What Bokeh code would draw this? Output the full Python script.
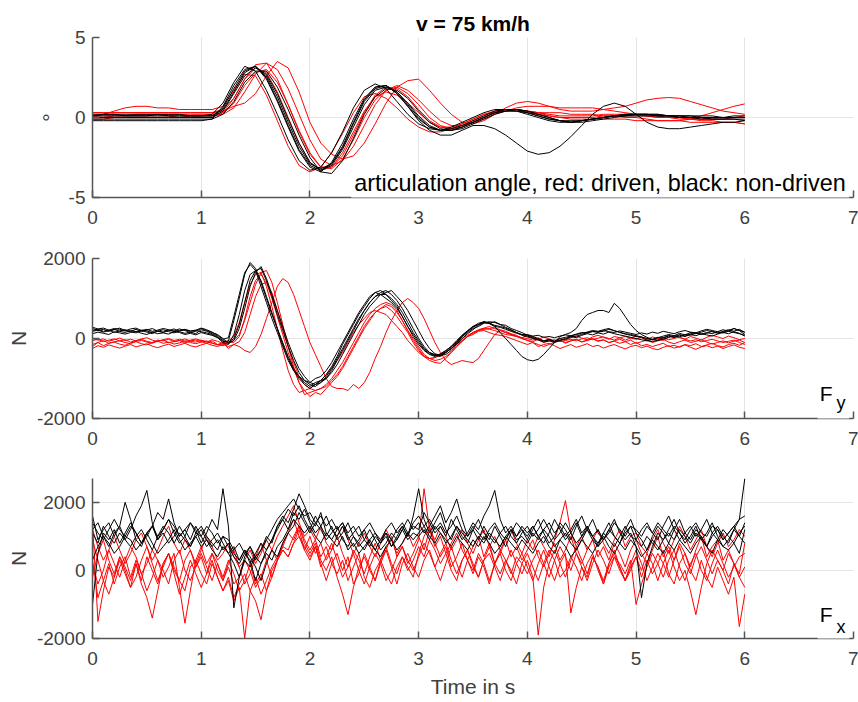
import numpy as np
from bokeh.plotting import figure
from bokeh.layouts import column
from bokeh.models import Label, BoxAnnotation, FixedTicker, Range1d
from bokeh.embed import file_html
from bokeh.resources import INLINE

# ---------------- data ----------------
t_ang = np.round(np.arange(61) * 0.1, 2)
t_force = np.round(np.arange(121) * 0.05, 2)
x_ticks = [0, 1, 2, 3, 4, 5, 6, 7]
ang_ticks = [-5, 0, 5]
force_ticks = [-2000, 0, 2000]

# articulation angle in degrees (black: non-driven, red: driven)
ang_black_1 = [0.2,0.2,0.2,0.2,0.2,0.2,0.2,0.2,0.2,0.1,0.1,
 0.2,0.9,2.2,3.2,2.9,1.7,0.2,-1.4,-2.7,-3.3,
 -3.1,-2.2,-0.9,0.6,1.7,2.1,1.8,1.0,0.2,-0.4,
 -0.7,-0.8,-0.6,-0.3,0.0,0.3,0.5,0.5,0.4,0.2,
 0.0,-0.2,-0.3,-0.3,-0.2,-0.1,0.0,0.1,0.2,0.2,
 0.2,0.1,0.1,0.0,0.0,-0.1,-0.1,-0.1,-0.1,-0.1]
ang_black_2 = [0.1,0.1,0.1,0.1,0.1,0.1,0.1,0.1,0.1,0.1,0.1,
 0.1,0.6,1.8,2.9,3.2,2.4,1.0,-0.6,-2.1,-3.1,
 -3.4,-2.8,-1.6,-0.1,1.2,1.9,2.0,1.5,0.7,-0.1,
 -0.6,-0.8,-0.7,-0.5,-0.2,0.1,0.4,0.5,0.5,0.3,
 0.1,-0.1,-0.2,-0.3,-0.2,-0.1,0.0,0.1,0.2,0.2,
 0.2,0.2,0.1,0.1,0.1,0.0,0.0,0.0,0.0,0.0]
ang_black_3 = [0.0,0.0,0.0,0.0,0.0,0.0,0.0,0.0,0.0,0.0,0.0,
 0.0,0.4,1.5,2.6,3.1,2.7,1.5,-0.1,-1.6,-2.8,
 -3.3,-3.0,-2.0,-0.6,0.8,1.7,1.9,1.6,0.9,0.1,
 -0.5,-0.8,-0.8,-0.6,-0.3,0.0,0.3,0.4,0.5,0.4,
 0.2,0.0,-0.2,-0.3,-0.2,-0.1,0.0,0.1,0.1,0.2,
 0.2,0.1,0.1,0.1,0.0,0.0,0.0,0.0,0.1,0.1]
ang_black_4 = [-0.1,-0.1,-0.1,-0.1,-0.1,-0.1,-0.1,-0.1,-0.1,-0.1,-0.1,
 -0.1,0.2,1.0,2.2,2.9,2.9,1.9,0.5,-1.1,-2.5,
 -3.4,-3.5,-2.7,-1.3,0.2,1.3,1.8,1.7,1.2,0.4,
 -0.3,-0.7,-0.8,-0.7,-0.4,-0.1,0.2,0.4,0.4,0.3,
 0.1,-0.1,-0.2,-0.3,-0.3,-0.2,-0.1,0.0,0.1,0.1,
 0.1,0.1,0.1,0.0,0.0,0.0,-0.1,-0.1,-0.1,-0.2]
ang_black_5 = [-0.2,-0.2,-0.2,-0.2,-0.2,-0.2,-0.2,-0.2,-0.2,-0.2,-0.2,
 -0.1,0.7,2.0,3.0,3.2,2.5,1.1,-0.5,-2.0,-3.0,
 -3.3,-2.9,-1.8,-0.3,1.1,1.9,2.0,1.5,0.7,-0.2,
 -0.8,-1.1,-1.1,-0.8,-0.5,-0.5,-0.7,-1.1,-1.6,-2.1,
 -2.3,-2.2,-1.8,-1.2,-0.5,0.2,0.7,0.9,0.7,0.2,
 -0.3,-0.6,-0.7,-0.7,-0.6,-0.5,-0.4,-0.3,-0.3,-0.2]
ang_black_6 = [0.1,0.2,0.2,0.1,0.1,0.1,0.2,0.1,0.1,0.1,0.1,
 0.1,0.5,1.6,2.8,3.2,2.6,1.3,-0.3,-1.8,-2.9,
 -3.2,-2.9,-1.9,-0.4,1.0,1.8,2.0,1.6,0.8,0.0,
 -0.6,-0.8,-0.8,-0.6,-0.3,0.0,0.3,0.5,0.5,0.4,
 0.2,0.0,-0.2,-0.2,-0.2,-0.1,0.0,0.1,0.1,0.2,
 0.2,0.2,0.1,0.1,0.1,0.1,0.1,0.0,0.0,0.0]
ang_red_1 = [0.0,0.2,0.4,0.6,0.7,0.7,0.6,0.6,0.5,0.5,0.5,
 0.5,0.7,1.7,2.7,2.6,1.4,-0.2,-1.8,-3.0,-3.4,
 -3.1,-2.2,-1.0,0.3,1.3,1.5,1.2,0.6,-0.1,-0.6,
 -0.9,-0.9,-0.7,-0.4,-0.1,0.2,0.4,0.5,0.5,0.4,
 0.3,0.2,0.1,0.1,0.1,0.1,0.2,0.2,0.2,0.2,
 0.1,0.1,0.0,0.0,-0.1,-0.2,-0.2,-0.3,-0.3,-0.4]
ang_red_2 = [0.3,0.3,0.3,0.3,0.3,0.3,0.3,0.3,0.3,0.3,0.3,
 0.3,0.5,1.2,2.4,3.3,3.4,2.4,0.8,-0.9,-2.3,
 -3.1,-3.1,-2.4,-1.1,0.3,1.4,1.9,1.8,1.3,0.5,
 -0.2,-0.6,-0.7,-0.5,-0.2,0.1,0.4,0.5,0.5,0.4,
 0.3,0.3,0.3,0.2,0.2,0.2,0.1,0.1,0.0,0.0,
 -0.1,-0.2,-0.2,-0.2,-0.1,0.1,0.3,0.5,0.7,0.85]
ang_red_3 = [0.3,0.3,0.3,0.3,0.3,0.3,0.3,0.3,0.3,0.3,0.3,
 0.3,0.4,0.7,0.9,1.5,2.6,3.5,3.1,1.6,-0.3,
 -1.6,-2.3,-2.6,-2.4,-1.6,-0.4,0.9,1.9,2.3,2.4,
 1.7,0.9,0.2,-0.3,-0.4,-0.2,0.2,0.6,0.9,1.0,
 0.9,0.7,0.5,0.4,0.4,0.4,0.5,0.6,0.7,0.9,
 1.1,1.2,1.25,1.2,1.0,0.8,0.6,0.4,0.3,0.2]
ang_red_4 = [0.1,0.1,0.1,0.1,0.2,0.2,0.2,0.2,0.2,0.2,0.2,
 0.2,0.3,0.9,2.0,2.8,3.0,2.2,0.8,-0.8,-2.2,
 -3.1,-3.2,-2.6,-1.4,0.0,1.1,1.7,1.9,1.5,0.8,
 0.0,-0.5,-0.7,-0.6,-0.3,0.0,0.3,0.5,0.5,0.4,
 0.3,0.1,0.0,-0.1,-0.1,-0.1,-0.1,-0.1,-0.1,-0.2,
 -0.2,-0.2,-0.2,-0.2,-0.3,-0.3,-0.3,-0.3,-0.3,-0.4]
ang_red_5 = [-0.1,-0.1,0.0,0.0,0.0,0.0,0.0,0.0,0.0,0.1,0.1,
 0.1,0.2,0.6,1.6,2.7,3.4,3.0,1.8,0.2,-1.4,
 -2.6,-3.0,-2.7,-1.8,-0.5,0.8,1.7,2.0,1.7,1.1,
 0.4,-0.2,-0.5,-0.5,-0.3,-0.1,0.2,0.4,0.6,0.7,
 0.7,0.7,0.6,0.6,0.6,0.6,0.5,0.4,0.3,0.2,
 0.1,0.0,0.0,-0.1,-0.1,-0.1,0.0,0.0,0.0,0.1]
ang_red_6 = [0.0,0.0,0.1,0.1,0.1,0.1,0.1,0.1,0.0,0.0,0.0,
 0.0,0.3,1.2,2.4,3.1,2.8,1.6,0.0,-1.6,-2.8,
 -3.3,-3.1,-2.2,-0.9,0.4,1.3,1.6,1.4,0.9,0.3,
 -0.3,-0.6,-0.6,-0.4,-0.1,0.2,0.3,0.4,0.4,0.3,
 0.2,0.1,0.0,0.0,0.0,0.0,0.1,0.1,0.1,0.1,
 0.1,0.0,0.0,0.0,-0.1,-0.1,-0.1,-0.1,0.0,0.0]

# lateral force Fy in N
fy_black_1 = [200,230,180,210,150,190,220,170,140,200,160,120,190,150,200,240,170,130,160,120,
 220,180,120,60,-80,-60,450,1000,1600,1900,1750,1400,1000,600,250,-100,-450,-750,-950,-1100,
 -1200,-1100,-1050,-900,-700,-450,-150,100,350,600,800,1000,1150,1200,1100,1000,850,650,400,150,
 -50,-250,-350,-420,-450,-350,-250,-100,50,150,250,300,380,420,400,350,330,250,200,150,
 80,50,0,-60,-40,-80,-50,-20,40,60,100,150,170,160,180,230,200,150,110,80,
 50,30,-50,-80,-40,20,80,40,100,60,120,150,100,130,180,140,160,200,250,200,
 100]
fy_black_2 = [250,200,230,180,220,260,200,180,230,170,210,250,180,160,210,190,240,200,150,180,
 250,200,150,100,0,-120,-50,250,750,1300,1650,1800,1500,1100,700,300,-100,-450,-750,-950,
 -1100,-1150,-1050,-1000,-850,-650,-400,-150,100,350,600,800,950,1100,1150,1200,1050,900,700,450,
 200,-50,-250,-380,-420,-400,-300,-150,0,120,220,330,400,380,420,350,280,220,150,100,
 60,20,-30,-60,-20,-70,0,30,60,100,130,160,200,180,220,250,190,160,120,100,
 70,40,0,-30,20,60,100,70,130,90,150,120,160,200,170,130,180,220,180,230,
 150]
fy_black_3 = [120,160,130,100,170,140,110,150,180,130,100,160,120,140,110,170,150,100,130,90,
 150,110,80,20,-100,-150,100,600,1200,1600,1700,1450,1050,650,250,-150,-500,-800,-1000,-1150,
 -1250,-1150,-1100,-950,-750,-500,-250,0,250,500,700,900,1050,1100,1100,950,800,550,300,50,
 -150,-300,-400,-450,-380,-300,-200,-50,80,180,280,350,420,380,330,300,260,200,150,80,
 40,0,-40,-90,-60,-100,-40,0,50,20,80,120,90,140,110,160,120,90,60,30,
 0,-30,-60,-20,30,10,60,20,80,50,100,70,120,90,60,110,150,120,170,130,
 60]
fy_black_4 = [180,210,160,190,230,180,150,200,170,210,190,150,180,220,170,140,190,220,180,200,
 170,140,100,30,-50,-100,0,350,900,1450,1700,1750,1450,1050,600,200,-200,-550,-850,-1050,
 -1150,-1200,-1100,-1000,-800,-550,-300,-50,200,450,700,900,1050,1150,1200,1100,950,750,500,250,
 0,-200,-350,-400,-420,-350,-250,-120,50,180,300,380,420,400,300,150,0,-150,-300,-450,
 -530,-560,-520,-400,-250,-100,50,100,150,250,450,600,650,700,700,650,880,750,550,350,
 200,100,30,-20,-50,-20,30,70,40,100,80,130,110,150,120,170,140,180,150,120,
 80]
fy_black_5 = [280,240,260,210,250,230,190,240,260,200,230,180,210,250,220,170,200,230,190,210,
 260,220,160,80,-20,20,550,1100,1650,1850,1700,1300,900,500,150,-200,-550,-800,-950,-1050,
 -1100,-1000,-950,-800,-600,-350,-100,150,400,650,850,1050,1150,1100,1000,900,750,550,300,100,
 -100,-280,-380,-430,-400,-330,-200,-80,80,200,300,350,400,370,300,280,230,180,130,100,
 100,60,80,30,50,20,60,90,70,110,150,130,180,160,200,170,150,190,160,130,
 100,140,110,160,130,180,150,120,170,200,160,140,190,230,200,170,220,180,250,200,
 160]
fy_red_1 = [-200,-100,-50,-120,-80,-60,-100,-130,-70,-50,-90,-120,-60,-40,-100,-80,-50,-110,-70,-90,
 -40,-80,-120,-150,-180,-120,-50,100,450,900,1350,1650,1700,1400,900,350,-200,-700,-1100,-1400,
 -1350,-1300,-1250,-1150,-1000,-800,-600,-350,-100,150,400,600,750,850,900,850,700,450,200,0,
 -200,-400,-500,-550,-520,-450,-350,-200,-50,50,150,200,230,250,270,220,180,120,80,0,
 -40,-80,-20,-100,-60,-30,-80,-50,-20,-60,-10,20,-30,10,40,0,-40,20,50,10,
 -20,30,0,-40,-10,20,-30,0,40,-20,-60,-30,-80,-50,-20,-60,-100,-70,-40,-100,
 -150]
fy_red_2 = [-50,-20,-80,-40,-10,-60,-30,-90,-50,-20,-70,-100,-40,-60,-20,-80,-50,-10,-60,-40,
 -80,-120,-60,-150,-100,-250,-150,-200,-300,-350,-200,100,500,900,1300,1500,1400,1100,700,300,
 -100,-400,-700,-1000,-1200,-1250,-1250,-1300,-1150,-1250,-1100,-850,-500,-200,150,450,700,900,1000,900,
 750,500,200,-100,-350,-550,-650,-600,-550,-580,-600,-500,-300,-100,100,200,150,100,50,0,
 -50,-100,-150,-200,-150,-100,-50,-100,-60,-20,-80,-40,0,-60,-30,-100,-70,-120,-80,-150,
 -100,-180,-150,-200,-160,-120,-200,-170,-220,-150,-180,-130,-200,-160,-120,-180,-210,-150,-120,-170,
 -100]
fy_red_3 = [-150,-100,-180,-120,-90,-140,-170,-110,-80,-130,-160,-100,-70,-120,-90,-140,-110,-60,-100,-130,
 -90,-60,-110,-160,-130,-80,-100,50,500,1050,1450,1600,1400,1000,550,100,-350,-750,-1100,-1300,
 -1450,-1350,-1400,-1250,-1100,-950,-750,-500,-250,0,250,450,650,750,850,800,650,450,200,-50,
 -250,-450,-550,-600,-620,-500,-350,-200,-80,50,130,200,250,230,200,150,100,80,50,20,
 0,-40,20,-60,-20,-80,-40,-120,-60,-20,-90,-50,-10,-70,-40,-100,-60,-20,-80,-40,
 -120,-80,-40,-100,-60,-20,-90,-130,-80,-40,-100,-70,-30,-90,-140,-100,-60,-110,-70,-40,
 -100]
fy_red_4 = [-250,-180,-220,-160,-200,-240,-190,-150,-210,-170,-130,-190,-230,-180,-140,-200,-160,-120,-180,-210,
 -160,-120,-170,-200,-140,-200,-150,-80,150,600,1050,1350,1400,1150,700,250,-200,-600,-950,-1150,
 -1250,-1300,-1250,-1200,-1050,-900,-700,-450,-200,50,300,500,650,750,800,700,550,350,150,-100,
 -300,-450,-500,-480,-420,-350,-250,-150,-50,50,100,180,200,150,100,80,50,0,-50,-100,
 -150,-100,-200,-150,-120,-180,-250,-200,-150,-220,-180,-130,-200,-170,-240,-190,-150,-210,-260,-200,
 -170,-230,-190,-250,-280,-220,-180,-240,-200,-160,-220,-270,-210,-180,-230,-190,-250,-200,-160,-220,
 -250]
fy_red_5 = [0,-40,-10,-70,-30,10,-50,-20,-60,-10,20,-40,-80,-30,0,-50,-20,-70,-40,-10,
 -50,-90,-30,-70,-120,-60,50,400,900,1350,1600,1650,1300,800,250,-300,-800,-1150,-1350,-1300,
 -1250,-1150,-1050,-900,-750,-550,-350,-100,150,350,500,650,700,650,600,450,300,150,-50,-200,
 -350,-450,-500,-480,-400,-300,-200,-100,0,80,150,220,260,300,250,200,150,100,60,20,
 80,30,-20,40,-10,-60,0,-40,20,60,10,-30,40,80,30,-20,50,20,-40,10,
 60,20,-30,40,0,-50,30,70,20,-20,50,10,-40,30,80,40,0,60,20,-30,
 0]

# longitudinal force Fx in N
fx_black_1 = [1600,900,1200,1400,1000,1300,2000,1500,900,700,1100,1300,900,1200,1500,1100,800,1000,1400,1200,
 800,1100,1500,1200,2400,1300,-1100,-200,400,700,300,600,1000,800,1300,1600,1400,1800,2250,1900,
 1500,1300,1700,1100,900,1200,1400,1000,700,900,1200,800,600,900,1100,700,1000,1300,1000,1600,
 2400,1500,1100,1400,1700,1200,900,1300,1000,800,1200,1500,1100,900,1300,1000,700,1100,1400,1200,
 900,1200,1500,1100,800,1000,1400,1200,900,1300,1600,1200,900,700,1100,1400,1000,800,1200,1500,
 1100,900,600,1000,1300,1100,800,1200,1500,1100,900,1200,1000,700,1100,1300,1000,800,1200,1500,
 2700]
fx_black_2 = [1200,1400,1000,700,1100,1300,900,1200,1600,1900,2350,1400,900,1100,800,1000,1300,1000,700,1100,
 1300,1000,800,600,1000,700,400,200,500,300,-300,200,600,900,1200,1500,1800,1600,1900,1500,
 1200,1600,1300,1000,1300,900,1100,1400,1000,700,900,1200,900,600,800,1100,900,1200,1500,1200,
 1400,1100,1300,1600,1900,1400,1700,2100,1500,1000,1200,900,1300,1000,800,1100,1300,1000,800,1100,
 1300,1000,1200,1500,1200,900,1100,1400,1100,800,1000,1300,1000,700,900,1200,1500,1100,900,1100,
 700,-800,200,700,1100,900,1200,1500,1100,800,1000,1300,900,1100,1400,1000,700,900,1200,1000,
 800]
fx_black_3 = [-1000,500,1100,900,1200,800,1100,1400,1100,800,1000,1300,1700,1500,2100,1400,1000,1200,900,1300,
 1000,700,900,1100,800,500,700,300,600,200,500,800,600,900,1300,1500,1200,1700,1500,1800,
 1400,1100,1300,1600,1200,1000,1300,900,1100,1300,900,700,1000,800,1100,900,1200,1400,1100,1300,
 1200,1700,1400,1100,1300,1000,1500,1200,900,1100,1400,1200,1600,1900,2350,1500,1100,1300,1000,1200,
 1000,1300,1000,800,1100,1500,1200,900,1100,1400,1000,1200,1500,1100,900,1200,1000,800,1100,1300,
 900,1200,1400,1100,900,1300,1600,1200,900,1100,1300,1000,1200,1500,1100,900,1200,1000,800,1100,
 1300]
fx_black_4 = [300,700,1000,800,500,700,1000,900,600,800,1100,800,500,700,900,1200,900,600,800,1000,
 700,900,600,400,700,500,200,-200,300,100,400,200,500,300,700,900,1200,1500,1300,1100,
 1300,1000,800,1100,900,700,1000,600,800,500,700,900,600,400,700,900,600,800,1100,900,
 1100,1300,1000,800,1100,900,700,1000,800,600,900,700,1000,800,500,700,1000,800,600,900,
 700,500,800,1000,700,500,900,700,400,600,900,700,500,800,1000,700,500,800,600,900,
 700,400,600,900,700,500,800,600,900,700,500,800,1000,700,500,900,700,600,800,500,
 1200]
fx_black_5 = [1100,800,1300,1000,800,1100,900,700,1000,1200,900,600,1000,1300,1100,800,1100,900,700,1000,
 1200,900,700,900,600,800,500,300,600,400,100,-300,200,600,400,800,1100,1300,1700,1400,
 1100,1400,1200,900,1100,1300,900,700,1000,800,600,900,1100,800,1000,700,900,1200,900,1100,
 1000,1200,900,1300,1100,800,1000,1300,1100,900,700,1000,800,1100,900,700,1000,1200,900,1000,
 800,1100,900,1200,1000,700,900,1100,800,600,900,1200,1000,800,1100,900,700,1000,1300,1000,
 900,700,1000,800,600,900,1100,900,1200,1000,800,1100,900,700,1000,1200,900,1100,1300,1000,
 1400]
fx_black_6 = [1400,1100,900,1200,1500,1200,1000,1300,1100,800,1100,1300,1000,1200,1500,1300,1000,1200,1400,1100,
 1000,1300,1100,800,1000,900,600,800,500,700,400,600,900,1200,1500,1700,1900,2100,1800,1600,
 1700,1400,1600,1300,1500,1200,1400,1100,1300,1000,1200,1400,1100,900,1200,1400,1100,1300,1000,1400,
 1600,1300,1500,1200,1400,1100,1300,1600,1200,1000,1300,1100,900,1200,1400,1100,900,1200,1000,1300,
 1100,1300,1000,1200,1400,1100,1300,1000,1200,1500,1100,1300,1000,1200,900,1100,1400,1200,1000,1300,
 1200,1000,1300,1100,1400,1200,1000,1300,1100,900,1200,1400,1100,1000,1300,1200,900,1100,1300,1500,
 1600]
fx_red_1 = [1400,-1500,-600,100,-200,300,-100,-500,200,-300,400,0,-400,200,500,100,-300,-600,100,300,
 -100,-400,200,-200,-600,-300,-900,-500,-2000,-600,-200,-700,-300,100,400,700,600,1000,1300,900,
 600,900,400,700,200,-100,300,-300,100,500,-200,-500,0,300,-100,-400,100,400,0,300,
 700,400,900,600,200,500,0,-300,300,600,100,-200,300,700,200,-100,300,0,-400,200,
 500,100,-300,200,600,300,-200,0,400,100,-300,200,500,0,-400,100,400,200,-100,300,
 -1000,-400,100,500,200,-200,300,600,100,-300,200,500,0,-300,200,600,200,-200,100,400,
 500]
fx_red_2 = [900,300,-300,-700,-200,400,100,-300,200,-400,-800,-1400,-600,200,500,0,-300,300,600,100,
 400,-100,500,200,-300,100,-400,-200,300,0,-500,-200,300,600,300,800,1100,900,1300,800,
 500,800,300,0,400,-200,-700,-1300,-500,100,400,0,-300,300,700,200,-100,400,100,-200,
 500,1000,1300,800,400,700,100,400,800,300,0,500,200,-300,200,600,300,-100,400,200,
 -100,300,600,200,-200,300,700,400,0,500,100,-300,200,600,300,-100,400,0,-300,100,
 400,0,500,200,-300,200,600,100,-300,0,-600,-1300,-500,200,600,300,0,500,200,-100,
 800]
fx_red_3 = [200,-400,0,600,200,-200,300,700,400,-100,200,600,300,-200,100,500,-500,-1550,-600,300,
 700,200,500,0,-300,200,600,100,-400,-100,400,800,300,-200,300,700,1100,1500,1000,600,
 1000,500,800,300,600,1000,500,100,600,300,-100,400,800,300,600,1000,400,700,200,500,
 900,2400,1200,700,1000,500,800,1100,600,300,700,1000,400,800,200,500,900,400,700,300,
 600,900,400,100,500,800,300,600,1000,500,200,600,900,400,700,300,800,500,100,600,
 900,500,200,600,1000,400,700,300,800,500,100,600,1000,400,700,900,300,600,200,-200,
 100]
fx_red_4 = [-200,500,900,300,-100,400,0,-500,-200,300,700,200,-300,100,500,-100,-700,-200,300,-100,
 -500,-100,300,-200,-600,-200,-800,-400,-100,-600,-900,-1450,-600,0,300,600,400,800,1000,700,
 400,700,100,400,800,300,-200,100,500,0,-400,100,500,200,-300,0,400,700,300,0,
 400,800,500,100,500,800,300,-100,300,600,200,-200,300,500,100,-300,200,600,200,-100,
 300,-200,-1900,-500,200,600,200,-200,300,700,300,-100,400,100,-400,200,500,100,-300,200,
 600,200,-300,100,500,200,-200,300,700,200,-100,400,700,300,-100,300,0,-400,200,-200,
 -500]
fx_red_5 = [1200,700,300,600,1000,600,200,500,900,1100,700,300,600,1000,1300,800,500,900,600,200,
 600,1000,700,300,500,800,400,100,300,600,200,500,900,600,1000,1300,1600,1900,1400,1000,
 1200,900,1300,800,600,1000,1300,900,500,800,1100,700,400,800,1200,900,500,800,1100,700,
 1000,600,1200,900,1300,1000,600,900,1200,800,500,900,1200,700,1000,600,900,1200,800,500,
 900,600,1000,700,400,900,1400,2050,1100,700,1000,600,900,1200,800,500,900,1200,700,1000,
 1100,700,500,900,1200,800,500,900,1300,1000,600,900,1200,700,400,800,1100,700,900,1200,
 1000]
fx_red_6 = [300,-800,-300,200,-400,100,400,-200,300,-100,-600,-200,300,0,-400,300,600,0,-300,100,
 500,100,-300,200,-200,300,-100,-600,-300,200,-400,-100,-600,-200,300,600,400,800,1200,600,
 300,700,200,-300,200,500,0,400,-400,-100,500,100,-300,200,600,100,-400,200,500,100,
 -200,300,600,100,-300,200,700,200,-200,300,-100,400,100,-400,200,500,0,-300,200,500,
 100,-300,200,600,100,-300,200,500,-1250,-500,100,-200,400,100,-300,200,600,100,-300,0,
 400,-200,300,-100,200,600,-100,-400,200,500,0,-300,300,-200,-500,100,-300,-700,-200,-1650,
 -700]

ang_red = [ang_red_1, ang_red_2, ang_red_3, ang_red_4, ang_red_5, ang_red_6]
ang_black = [ang_black_1, ang_black_2, ang_black_3, ang_black_4, ang_black_5, ang_black_6]
fy_red = [fy_red_1, fy_red_2, fy_red_3, fy_red_4, fy_red_5]
fy_black = [fy_black_1, fy_black_2, fy_black_3, fy_black_4, fy_black_5]
fx_red = [fx_red_1, fx_red_2, fx_red_3, fx_red_4, fx_red_5, fx_red_6]
fx_black = [fx_black_1, fx_black_2, fx_black_3, fx_black_4, fx_black_5, fx_black_6]

for name, group, n in (("ang_red", ang_red, 61), ("ang_black", ang_black, 61),
                       ("fy_red", fy_red, 121), ("fy_black", fy_black, 121),
                       ("fx_red", fx_red, 121), ("fx_black", fx_black, 121)):
    for k, s in enumerate(group):
        assert len(s) == n, f"{name}[{k}] has {len(s)} values"

# ---------------- styling ----------------
FONT = "Liberation Sans"
TXT = "#404040"
AXC = "#555555"
RED = "#ff0000"
BLK = "#000000"


def make_fig(height, top, bottom, yr, yticks, ylabel, xlabel=None):
    p = figure(width=858, height=height, output_backend="svg", toolbar_location=None,
               x_range=Range1d(0, 7), y_range=Range1d(*yr),
               min_border_left=92, min_border_right=5,
               min_border_top=top, min_border_bottom=bottom)
    p.outline_line_color = None
    p.xaxis.ticker = FixedTicker(ticks=x_ticks)
    p.yaxis.ticker = FixedTicker(ticks=yticks)
    p.xgrid.ticker = FixedTicker(ticks=x_ticks)
    p.ygrid.ticker = FixedTicker(ticks=yticks)
    p.yaxis.major_label_overrides = {v: str(v) for v in yticks}
    p.grid.grid_line_color = "#e4e4e4"
    p.grid.grid_line_width = 1
    for ax in (p.xaxis, p.yaxis):
        ax.major_tick_in = 7
        ax.major_tick_out = 0
        ax.minor_tick_line_color = None
        ax.axis_line_color = AXC
        ax.axis_line_width = 1.5
        ax.major_tick_line_color = AXC
        ax.major_tick_line_width = 1.5
        ax.major_label_text_font = FONT
        ax.major_label_text_font_size = "19px"
        ax.major_label_text_color = TXT
        ax.axis_label_text_font = FONT
        ax.axis_label_text_font_size = "21px"
        ax.axis_label_text_font_style = "normal"
        ax.axis_label_text_color = TXT
    p.xaxis.major_label_standoff = 13
    p.yaxis.major_label_standoff = 7
    p.yaxis.axis_label = ylabel
    p.yaxis.axis_label_standoff = 4
    if xlabel:
        p.xaxis.axis_label = xlabel
        p.xaxis.axis_label_standoff = 7
    return p


# ---- panel 1: articulation angle
p1 = make_fig(227, 37, 30, (-5, 5), ang_ticks, "°")
p1.title.text = "v = 75 km/h"
p1.title.align = "center"
p1.title.text_font = FONT
p1.title.text_font_size = "21px"
p1.title.text_font_style = "bold"
p1.title.text_color = "black"
p1.title.standoff = 6
for s in ang_red:
    p1.line(t_ang, s, line_color=RED, line_width=1)
for s in ang_black:
    p1.line(t_ang, s, line_color=BLK, line_width=1)
p1.add_layout(BoxAnnotation(left=2.38, right=6.96, bottom=-5.35, top=-3.55,
                            fill_color="white", fill_alpha=1.0, line_color=None))
p1.add_layout(Label(x=2.408, y=-4.08, text="articulation angle, red: driven, black: non-driven",
                    text_font=FONT, text_font_size="23.4px", text_color="black",
                    text_align="left", text_baseline="alphabetic"))

# ---- panel 2: Fy
p2 = make_fig(221, 31, 30, (-2000, 2000), force_ticks, "N")
for s in fy_red:
    p2.line(t_force, s, line_color=RED, line_width=1)
for s in fy_black:
    p2.line(t_force, s, line_color=BLK, line_width=1)
p2.add_layout(BoxAnnotation(left=6.67, right=6.96, bottom=-2150, top=-1000,
                            fill_color="white", fill_alpha=1.0, line_color=None))
p2.add_layout(Label(x=6.69, y=-1370, text="F", text_font=FONT, text_font_size="21px",
                    text_color="black", text_baseline="alphabetic"))
p2.add_layout(Label(x=6.843, y=-1620, text="y", text_font=FONT, text_font_size="18px",
                    text_color="black", text_baseline="alphabetic"))

# ---- panel 3: Fx
p3 = make_fig(252, 30, 62, (-2000, 2700), force_ticks, "N", "Time in s")
for s in fx_red:
    p3.line(t_force, s, line_color=RED, line_width=1)
for s in fx_black:
    p3.line(t_force, s, line_color=BLK, line_width=1)
p3.add_layout(BoxAnnotation(left=6.67, right=6.96, bottom=-2200, top=-900,
                            fill_color="white", fill_alpha=1.0, line_color=None))
p3.add_layout(Label(x=6.69, y=-1282, text="F", text_font=FONT, text_font_size="21px",
                    text_color="black", text_baseline="alphabetic"))
p3.add_layout(Label(x=6.843, y=-1664, text="x", text_font=FONT, text_font_size="18px",
                    text_color="black", text_baseline="alphabetic"))

layout = column(p1, p2, p3)
open("out.html", "w").write(file_html(layout, INLINE))
